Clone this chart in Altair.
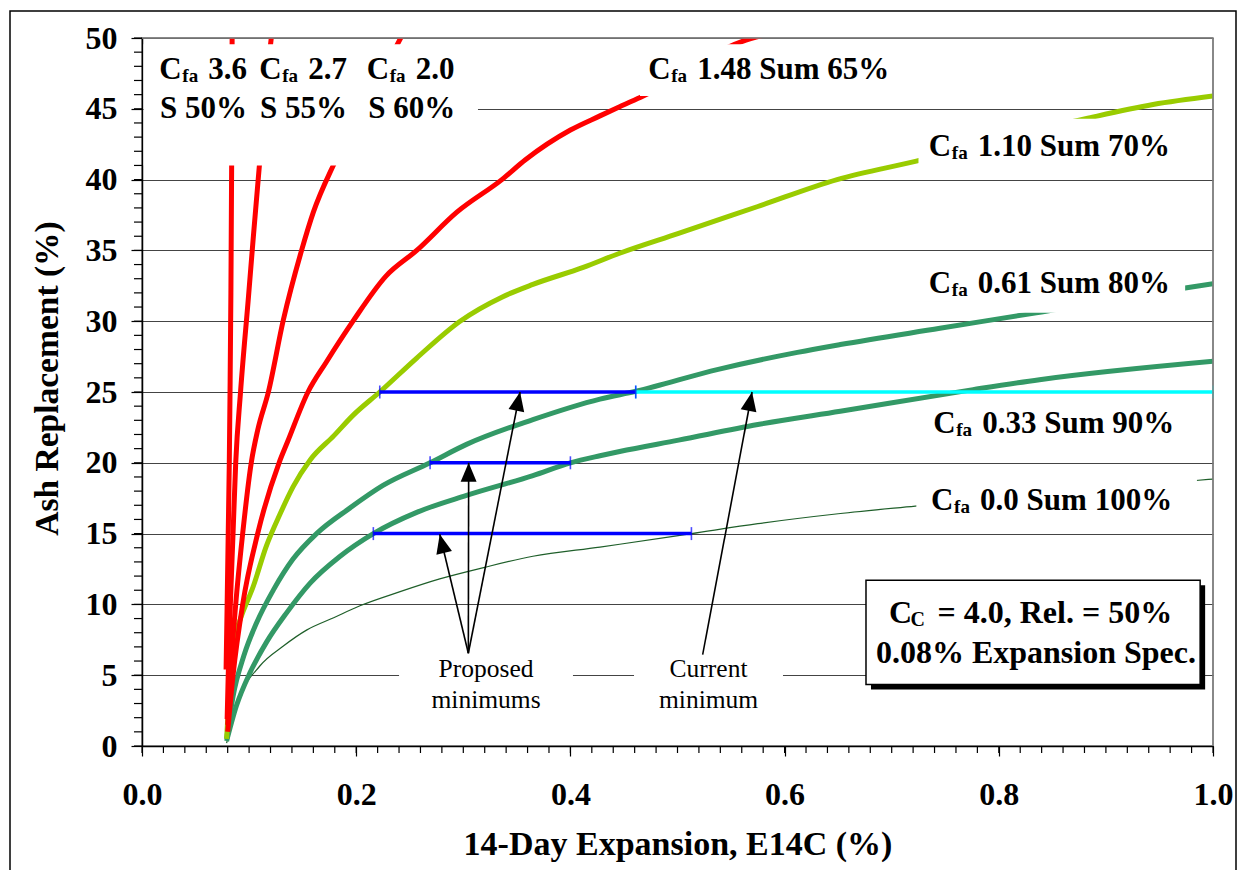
import altair as alt
import pandas as pd
import math

# ---------------- data ----------------
# Cfa 3.6, S 50%
x_36 = [0.0785, 0.0795, 0.0805, 0.0815, 0.0822, 0.0830, 0.0837, 0.0842]
y_36 = [5.4, 10.0, 15.0, 20.0, 25.0, 32.0, 41.0, 51.0]
# Cfa 2.7, S 55%
x_27 = [0.0795, 0.0805, 0.0825, 0.0850, 0.0875, 0.0920, 0.0995, 0.1040, 0.1096, 0.1150, 0.1215]
y_27 = [1.9, 5.0, 10.0, 15.0, 20.0, 25.0, 31.8, 36.0, 41.0, 46.0, 50.5]
# Cfa 2.0, S 60%
x_20 = [0.0800, 0.0825, 0.0875, 0.0940, 0.1020, 0.1080, 0.1180, 0.1320, 0.1490, 0.1600, 0.1786, 0.2070, 0.2450]
y_20 = [1.5, 5.0, 10.0, 15.0, 20.0, 22.3, 25.0, 30.1, 35.0, 37.7, 41.0, 45.0, 50.5]
# Cfa 1.48 Sum 65%
x_148 = [0.0800, 0.0850, 0.0940, 0.1080, 0.1280, 0.1360, 0.1550, 0.1720, 0.1970, 0.2280, 0.2565,
         0.2940, 0.3360, 0.3580, 0.4000, 0.4276, 0.4460, 0.4680, 0.5600, 0.5970]
y_148 = [1.0, 5.0, 10.0, 15.0, 20.0, 21.5, 25.0, 27.1, 30.0, 33.2, 35.0,
         37.7, 40.0, 41.4, 43.5, 44.5, 45.15, 45.9, 49.75, 50.5]
# Cfa 1.10 Sum 70%
x_110 = [0.0790, 0.0853, 0.0915, 0.1040, 0.1160, 0.1290, 0.1410, 0.1570, 0.1790, 0.1970, 0.2220,
         0.2565, 0.2970, 0.3360, 0.3650, 0.4120, 0.4460, 0.5010, 0.5750, 0.6490, 0.7230,
         0.8810, 0.9440, 1.0000]
y_110 = [0.5, 7.3, 8.9, 11.3, 14.1, 16.4, 18.3, 20.2, 21.9, 23.35, 25.0,
         27.4, 30.0, 31.7, 32.6, 33.8, 34.8, 36.2, 38.1, 40.0, 41.3,
         44.3, 45.3, 45.9]
# Cfa 0.61 Sum 80%
x_061 = [0.0790, 0.0850, 0.0950, 0.1070, 0.1230, 0.1410, 0.1630, 0.1940, 0.2250, 0.2690, 0.3030,
         0.3650, 0.4276, 0.4610, 0.5380, 0.6120, 0.6520, 0.7450, 0.8350, 0.9740, 1.0000]
y_061 = [0.5, 3.5, 6.35, 8.7, 11.06, 13.2, 15.0, 16.8, 18.4, 20.0, 21.3,
         23.05, 24.5, 25.05, 26.6, 27.8, 28.35, 29.5, 30.6, 32.35, 32.65]
# Cfa 0.33 Sum 90%
x_033 = [0.0790, 0.0880, 0.1010, 0.1160, 0.1350, 0.1570, 0.1850, 0.2160, 0.2565, 0.3030, 0.3650,
         0.4000, 0.4276, 0.4460, 0.5010, 0.5750, 0.6520, 0.7760, 0.8380, 1.0000]
y_033 = [0.35, 2.8, 5.2, 7.3, 9.4, 11.5, 13.4, 15.0, 16.5, 17.7, 19.1,
         20.0, 20.5, 20.8, 21.6, 22.7, 23.64, 25.17, 25.87, 27.17]
# Cfa 0.0 Sum 100%
x_000 = [0.0790, 0.0853, 0.0915, 0.1100, 0.1320, 0.1540, 0.1790, 0.2035, 0.2410, 0.2780, 0.3190,
         0.3650, 0.4276, 0.4460, 0.5130, 0.5750, 0.6500, 0.7220, 0.9840, 1.0000]
y_000 = [0.2, 2.1, 3.5, 5.65, 7.06, 8.2, 9.06, 9.9, 10.9, 11.8, 12.6,
         13.4, 14.05, 14.25, 15.0, 15.7, 16.4, 16.94, 18.75, 18.85]

# minimum lines (blue proposed, cyan current)
seg_y = [25, 20, 15, 25]
seg_x1 = [0.222, 0.269, 0.216, 0.461]
seg_x2 = [0.461, 0.400, 0.513, 1.000]
seg_color = ["#0000FF", "#0000FF", "#0000FF", "#00FFFF"]

# arrows
arrow_tail_x = [0.3047, 0.3047, 0.3047, 0.5235]
arrow_tail_y = [6.55, 6.55, 6.55, 6.45]
arrow_tip_x = [0.353, 0.305, 0.278, 0.5696]
arrow_tip_y = [25.0, 20.0, 14.95, 25.0]

# curve labels  "C" + subscript "fa" + text
label_main = ["3.6", "2.7", "2.0", "1.48 Sum 65%", "1.10 Sum 70%", "0.61 Sum 80%",
              "0.33 Sum 90%", "0.0 Sum 100%"]
label_x = [0.0162, 0.1095, 0.2098, 0.4726, 0.7347, 0.7347, 0.7388, 0.7368]
label_y = [47.1, 47.1, 47.1, 47.1, 41.69, 31.98, 22.10, 16.70]
s_text = ["S 50%", "S 55%", "S 60%"]
s_x = [0.0168, 0.1102, 0.2113]
s_y = [44.35, 44.35, 44.35]

# white backgrounds behind the labels
mask_x1 = [0.0015, 0.465, 0.725, 0.725, 0.723, 0.240, 0.4594]
mask_x2 = [0.3137, 0.705, 0.968, 0.974, 0.985, 0.4024, 0.5985]
mask_y1 = [41.0, 45.9, 40.4, 30.6, 15.4, 2.24, 2.24]
mask_y2 = [49.55, 49.55, 44.3, 34.0, 19.2, 6.47, 6.47]

note_text = ["Proposed", "minimums", "Current", "minimum"]
note_x = [0.3212, 0.3212, 0.529, 0.529]
note_y = [4.87, 2.71, 4.87, 2.71]

box_x1, box_x2, box_y1, box_y2 = [0.676], [0.988], [4.35], [11.71]
box_line2 = ["0.08% Expansion Spec."]

x_ticks = [0.0, 0.2, 0.4, 0.6, 0.8, 1.0]
y_ticks = [0, 5, 10, 15, 20, 25, 30, 35, 40, 45, 50]
x_minor = [round(i * 0.02, 2) for i in range(51)]
y_minor = list(range(0, 51))

# ---------------- chart ----------------
W, H = 1071, 708
FONT = "Liberation Serif"
xs = alt.Scale(domain=[0, 1], nice=False, zero=False)
ys = alt.Scale(domain=[0, 50], nice=False, zero=False)

x_axis = alt.Axis(values=x_ticks, format=".1f", title="14-Day Expansion, E14C (%)",
                  grid=False, domainColor="black", domainWidth=1.5, tickColor="black",
                  tickSize=10, tickWidth=1.2, labelFont=FONT, labelFontSize=32,
                  labelFontWeight="bold", labelColor="black", labelPadding=23,
                  labelFlush=False, labelOverlap=False,
                  titleFont=FONT, titleFontSize=34, titleFontWeight="bold", titleColor="black",
                  titleBaseline="alphabetic", titleY=108)
y_axis = alt.Axis(values=y_ticks, format="d", title="Ash Replacement (%)",
                  grid=True, gridColor="#444444", gridWidth=1,
                  domainColor="black", domainWidth=1.5, tickColor="black",
                  tickSize=11, tickWidth=1.2, labelFont=FONT, labelFontSize=32,
                  labelFontWeight="bold", labelColor="black", labelPadding=14,
                  labelFlush=False, labelOverlap=False,
                  titleFont=FONT, titleFontSize=33.5, titleFontWeight="bold", titleColor="black",
                  titleBaseline="alphabetic", titleX=-85, titleY=340)


def X(field):
    return alt.X(field, scale=xs, axis=x_axis)


def Y(field):
    return alt.Y(field, scale=ys, axis=y_axis)


series = [
    (x_000, y_000, "#1F5F2A", 1.2),
    (x_033, y_033, "#339966", 5),
    (x_061, y_061, "#339966", 5),
    (x_110, y_110, "#99CC00", 5),
    (x_148, y_148, "#FF0000", 5),
    (x_20, y_20, "#FF0000", 5),
    (x_27, y_27, "#FF0000", 5),
    (x_36, y_36, "#FF0000", 5),
]

layers = []
for xv, yv, col, sw in series:
    d = pd.DataFrame({"x": xv, "y": yv, "i": range(len(xv))})
    layers.append(
        alt.Chart(d).mark_line(color=col, strokeWidth=sw, clip=True, strokeJoin="round",
                               interpolate="monotone").encode(
            x=X("x:Q"), y=Y("y:Q"), order="i:Q")
    )

# minor ticks
ymin_df = pd.DataFrame({"y": y_minor})
layers.append(alt.Chart(ymin_df).mark_rule(color="black", strokeWidth=1.2).encode(
    y=Y("y:Q"), x=alt.value(-8), x2=alt.value(0)))
xmin_df = pd.DataFrame({"x": x_minor})
layers.append(alt.Chart(xmin_df).mark_rule(color="black", strokeWidth=1.2).encode(
    x=X("x:Q"), y=alt.value(H), y2=alt.value(H + 7)))

# minimum segments
seg_df = pd.DataFrame({"x1": seg_x1, "x2": seg_x2, "y": seg_y, "c": seg_color})
layers.append(alt.Chart(seg_df).mark_rule(strokeWidth=3.5).encode(
    x=X("x1:Q"), x2="x2:Q", y=Y("y:Q"), color=alt.Color("c:N", scale=None)))
tick_df = pd.DataFrame({
    "x": seg_x1 + seg_x2, "y": seg_y + seg_y, "c": seg_color + seg_color})
layers.append(alt.Chart(tick_df).mark_tick(orient="vertical", size=13, thickness=1.6).encode(
    x=X("x:Q"), y=Y("y:Q"), color=alt.Color("c:N", scale=None)))

# white label backgrounds
mask_df = pd.DataFrame({"x1": mask_x1, "x2": mask_x2, "y1": mask_y1, "y2": mask_y2})
layers.append(alt.Chart(mask_df).mark_rect(color="white").encode(
    x=X("x1:Q"), x2="x2:Q", y=Y("y1:Q"), y2="y2:Q"))

# curve labels
lab_df = pd.DataFrame({"x": label_x, "y": label_y, "t": label_main})
base_txt = dict(font=FONT, fontWeight="bold", color="black", align="left", baseline="alphabetic")
layers.append(alt.Chart(lab_df).mark_text(fontSize=31, text="C", **base_txt).encode(
    x=X("x:Q"), y=Y("y:Q")))
layers.append(alt.Chart(lab_df).mark_text(fontSize=19, text="fa", dx=23, dy=3, **base_txt).encode(
    x=X("x:Q"), y=Y("y:Q")))
layers.append(alt.Chart(lab_df).mark_text(fontSize=31, dx=49, **base_txt).encode(
    x=X("x:Q"), y=Y("y:Q"), text="t:N"))
s_df = pd.DataFrame({"x": s_x, "y": s_y, "t": s_text})
layers.append(alt.Chart(s_df).mark_text(fontSize=31, **base_txt).encode(
    x=X("x:Q"), y=Y("y:Q"), text="t:N"))

# notes
note_df = pd.DataFrame({"x": note_x, "y": note_y, "t": note_text})
layers.append(alt.Chart(note_df).mark_text(font=FONT, fontSize=25.5, color="black",
                                           align="center", baseline="alphabetic").encode(
    x=X("x:Q"), y=Y("y:Q"), text="t:N"))

# arrows
PX_X, PX_Y = W / 1.0, H / 50.0
angles = []
for tx, ty, hx, hy in zip(arrow_tail_x, arrow_tail_y, arrow_tip_x, arrow_tip_y):
    sx = (hx - tx) * PX_X
    sy = -(hy - ty) * PX_Y
    angles.append(math.degrees(math.atan2(sx, -sy)) % 360)
arr_df = pd.DataFrame({"tx": arrow_tail_x, "ty": arrow_tail_y,
                       "hx": arrow_tip_x, "hy": arrow_tip_y, "a": angles})
layers.append(alt.Chart(arr_df).mark_rule(color="black", strokeWidth=1.6).encode(
    x=X("tx:Q"), y=Y("ty:Q"), x2="hx:Q", y2="hy:Q"))
layers.append(alt.Chart(arr_df).mark_point(shape="M0,0L0.42,1L-0.42,1Z", filled=True,
                                           color="black", opacity=1, size=1444).encode(
    x=X("hx:Q"), y=Y("hy:Q"), angle=alt.Angle("a:Q", scale=None)))

# spec box with shadow
box_df = pd.DataFrame({"x1": box_x1, "x2": box_x2, "y1": box_y1, "y2": box_y2})
layers.append(alt.Chart(box_df).mark_rect(color="black", xOffset=5, x2Offset=5,
                                          yOffset=5, y2Offset=5).encode(
    x=X("x1:Q"), x2="x2:Q", y=Y("y1:Q"), y2="y2:Q"))
layers.append(alt.Chart(box_df).mark_rect(fill="white", stroke="black", strokeWidth=1.5).encode(
    x=X("x1:Q"), x2="x2:Q", y=Y("y1:Q"), y2="y2:Q"))
b1_df = pd.DataFrame({"x": [0.6975], "y": [8.71], "t": ["= 4.0, Rel. = 50%"]})
layers.append(alt.Chart(b1_df).mark_text(fontSize=32, text="C", **base_txt).encode(
    x=X("x:Q"), y=Y("y:Q")))
layers.append(alt.Chart(b1_df).mark_text(fontSize=20, text="C", dx=21.5, dy=3.5, **base_txt).encode(
    x=X("x:Q"), y=Y("y:Q")))
layers.append(alt.Chart(b1_df).mark_text(fontSize=32, dx=48.5, **base_txt).encode(
    x=X("x:Q"), y=Y("y:Q"), text="t:N"))
b2_df = pd.DataFrame({"x": [0.8347], "y": [5.84], "t": box_line2})
layers.append(alt.Chart(b2_df).mark_text(font=FONT, fontWeight="bold", color="black", fontSize=32,
                                         align="center", baseline="alphabetic").encode(
    x=X("x:Q"), y=Y("y:Q"), text="t:N"))

# plot frame (top / right, grey) and outer frame of the figure
frame_df = pd.DataFrame({"k": [0]})
layers.append(alt.Chart(frame_df).mark_rule(color="#808080", strokeWidth=1.5).encode(
    x=alt.value(0), x2=alt.value(W), y=alt.value(0)))
layers.append(alt.Chart(frame_df).mark_rule(color="#808080", strokeWidth=1.5).encode(
    x=alt.value(W), y=alt.value(0), y2=alt.value(H)))
layers.append(alt.Chart(frame_df).mark_rect(fillOpacity=0, stroke="black", strokeWidth=1.5).encode(
    x=alt.value(-132), x2=alt.value(1094), y=alt.value(-27), y2=alt.value(850)))

chart = alt.layer(*layers).properties(
    width=W, height=H,
    padding={"left": 142, "top": 38, "right": 28, "bottom": 124},
    autosize=alt.AutoSizeParams(type="none"),
    background="white",
).configure_view(stroke="#808080", strokeWidth=1.5)

chart.save("out.html", embed_options={"renderer": "svg", "actions": False})
